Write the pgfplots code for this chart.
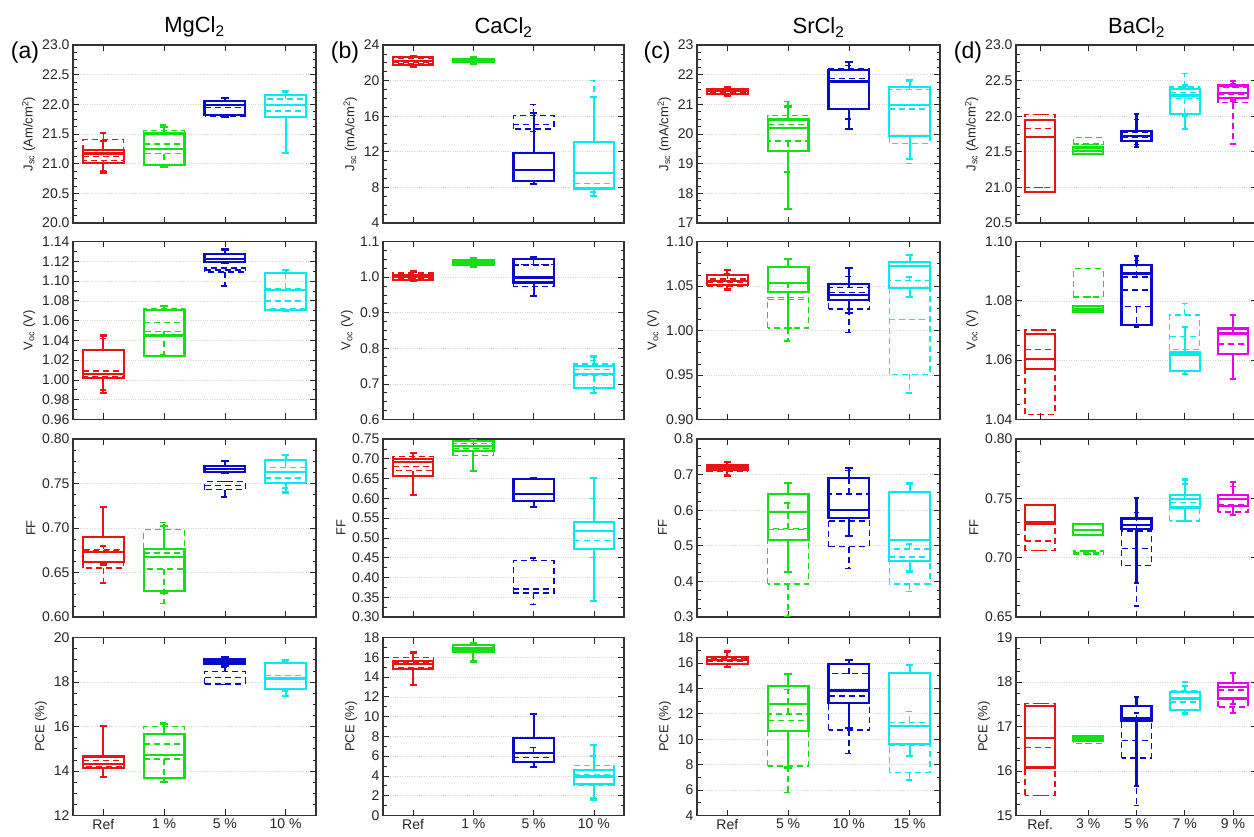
\documentclass[border=0pt]{standalone}
\usepackage{fontspec}
\setmainfont{Liberation Sans}
\usepackage{pgfplots}
\pgfplotsset{compat=1.18}
\usepgfplotslibrary{statistics}

\definecolor{cR}{RGB}{235,20,20}
\definecolor{cG}{RGB}{20,225,20}
\definecolor{cB}{RGB}{10,10,205}
\definecolor{cC}{RGB}{0,235,235}
\definecolor{cM}{RGB}{235,0,235}

% solid box (scan 1) and dashed box (scan 2): colour, position, lw, lq, med, uq, uw
\newcommand{\bS}[7]{\addplot[draw=#1, solid, line width=2.2pt,
  boxplot prepared={draw position=#2, lower whisker=#3, lower quartile=#4,
  median=#5, upper quartile=#6, upper whisker=#7}] coordinates {};}
\newcommand{\bD}[7]{\addplot[draw=#1, line width=1.4pt, dash pattern=on 6pt off 4pt,
  boxplot prepared={draw position=#2, lower whisker=#3, lower quartile=#4,
  median=#5, upper quartile=#6, upper whisker=#7}] coordinates {};}

\pgfplotsset{
  panel/.style={
    scale only axis, height=178pt, anchor=north west,
    xmin=0.5, xmax=4.5, xtick={1,2,3,4}, xticklabels={},
    tick pos=both, tick align=inside, minor y tick num=3,
    major tick length=6pt, minor tick length=3.5pt,
    every tick/.append style={black!85, line width=0.7pt},
    axis line style={black!80, line width=1.1pt},
    ymajorgrids, major grid style={black!18, dotted, line width=0.6pt},
    tick label style={font=\fontsize{14}{16}\selectfont, text=black!85},
    ylabel style={font=\fontsize{13}{15}\selectfont, text=black!85},
    title style={font=\fontsize{22}{24}\selectfont, yshift=-2pt},
    /pgf/number format/assume math mode=true,
    boxplot/draw direction=y, boxplot/box extend=0.67, boxplot/whisker extend=0.12,
  },
  five/.style={xmin=0.5, xmax=5.5, xtick={1,2,3,4,5}, boxplot/box extend=0.62},
  p0/.style={yticklabel style={/pgf/number format/.cd, fixed, precision=0}},
  p1/.style={yticklabel style={/pgf/number format/.cd, fixed, fixed zerofill, precision=1}},
  p2/.style={yticklabel style={/pgf/number format/.cd, fixed, fixed zerofill, precision=2}},
}

\begin{document}
\begin{tikzpicture}
\useasboundingbox (0pt,0pt) rectangle (1254pt,-837pt);

% ---------------- (a) MgCl2 ----------------
\begin{axis}[panel, at={(73pt,-45pt)}, width=243pt, ymin=20, ymax=23,
  ytick={20,20.5,21,21.5,22,22.5,23}, p1,
  ylabel={J\textsubscript{sc} (Am/cm\textsuperscript{2})}, title={MgCl\textsubscript{2}}]
\bD{cR}{1}{20.88}{21.05}{21.12}{21.41}{21.52}
\bS{cR}{1}{20.85}{21.01}{21.17}{21.23}{21.38}
\bD{cG}{2}{20.95}{21.17}{21.33}{21.56}{21.65}
\bS{cG}{2}{20.94}{20.98}{21.25}{21.51}{21.62}
\bD{cB}{3}{21.78}{21.80}{21.95}{22.05}{22.10}
\bS{cB}{3}{21.79}{21.82}{21.99}{22.06}{22.10}
\bD{cC}{4}{21.78}{21.79}{21.89}{22.09}{22.20}
\bS{cC}{4}{21.18}{21.78}{21.99}{22.16}{22.23}
\end{axis}

\begin{axis}[panel, at={(73pt,-241.5pt)}, width=243pt, ymin=0.96, ymax=1.14,
  ytick={0.96,0.98,1.00,1.02,1.04,1.06,1.08,1.10,1.12,1.14}, minor y tick num=1, p2,
  ylabel={V\textsubscript{oc} (V)}]
\bD{cR}{1}{0.990}{1.003}{1.009}{1.030}{1.042}
\bS{cR}{1}{0.987}{1.002}{1.006}{1.030}{1.045}
\bD{cG}{2}{1.026}{1.049}{1.058}{1.072}{1.075}
\bS{cG}{2}{1.024}{1.024}{1.045}{1.071}{1.075}
\bD{cB}{3}{1.095}{1.109}{1.111}{1.113}{1.113}
\bS{cB}{3}{1.118}{1.119}{1.122}{1.127}{1.132}
\bD{cC}{4}{1.070}{1.072}{1.080}{1.092}{1.108}
\bS{cC}{4}{1.070}{1.071}{1.091}{1.108}{1.111}
\end{axis}

\begin{axis}[panel, at={(73pt,-439pt)}, width=243pt, ymin=0.60, ymax=0.80,
  ytick={0.60,0.65,0.70,0.75,0.80}, p2, ylabel={FF}]
\bD{cR}{1}{0.638}{0.655}{0.674}{0.676}{0.680}
\bS{cR}{1}{0.659}{0.662}{0.673}{0.690}{0.724}
\bD{cG}{2}{0.615}{0.654}{0.672}{0.698}{0.706}
\bS{cG}{2}{0.627}{0.629}{0.667}{0.676}{0.702}
\bD{cB}{3}{0.735}{0.743}{0.748}{0.752}{0.752}
\bS{cB}{3}{0.762}{0.763}{0.766}{0.770}{0.775}
\bD{cC}{4}{0.745}{0.751}{0.756}{0.768}{0.776}
\bS{cC}{4}{0.740}{0.751}{0.763}{0.776}{0.782}
\end{axis}

\begin{axis}[panel, at={(73pt,-637.5pt)}, width=243pt, ymin=12, ymax=20,
  ytick={12,14,16,18,20}, p0, ylabel={PCE (\%)},
  xticklabels={Ref,1 \%,5 \%,10 \%}]
\bD{cR}{1}{13.72}{14.20}{14.47}{14.60}{16.00}
\bS{cR}{1}{13.72}{14.14}{14.32}{14.65}{16.04}
\bD{cG}{2}{13.50}{14.54}{15.22}{15.99}{16.19}
\bS{cG}{2}{13.50}{13.69}{14.72}{15.67}{16.10}
\bD{cB}{3}{17.88}{17.91}{18.20}{18.48}{18.68}
\bS{cB}{3}{18.73}{18.83}{18.92}{19.03}{19.10}
\bD{cC}{4}{17.60}{17.70}{18.28}{18.85}{18.95}
\bS{cC}{4}{17.38}{17.68}{18.16}{18.85}{18.98}
\end{axis}

% ---------------- (b) CaCl2 ----------------
\begin{axis}[panel, at={(383pt,-45pt)}, width=241pt, ymin=4, ymax=24,
  ytick={4,8,12,16,20,24}, p0,
  ylabel={J\textsubscript{sc} (mA/cm\textsuperscript{2})}, title={CaCl\textsubscript{2}}]
\bD{cR}{1}{21.70}{21.90}{22.10}{22.50}{22.70}
\bS{cR}{1}{21.58}{21.77}{22.21}{22.62}{22.77}
\bD{cG}{2}{21.90}{22.10}{22.30}{22.40}{22.60}
\bS{cG}{2}{21.90}{22.06}{22.25}{22.44}{22.60}
\bD{cB}{3}{14.30}{14.58}{15.06}{16.10}{17.30}
\bS{cB}{3}{8.36}{8.73}{9.96}{11.90}{16.37}
\bD{cC}{4}{7.50}{7.90}{8.43}{13.10}{20.00}
\bS{cC}{4}{7.05}{7.87}{9.59}{13.09}{18.15}
\end{axis}

\begin{axis}[panel, at={(383pt,-241.5pt)}, width=241pt, ymin=0.6, ymax=1.1,
  ytick={0.6,0.7,0.8,0.9,1.0,1.1}, p1, ylabel={V\textsubscript{oc} (V)}]
\bD{cR}{1}{0.995}{0.996}{1.000}{1.011}{1.016}
\bS{cR}{1}{0.990}{0.991}{1.000}{1.0065}{1.016}
\bD{cG}{2}{1.030}{1.035}{1.041}{1.046}{1.053}
\bS{cG}{2}{1.030}{1.033}{1.041}{1.048}{1.053}
\bD{cB}{3}{0.946}{0.974}{1.034}{1.036}{1.055}
\bS{cB}{3}{0.946}{0.985}{0.999}{1.050}{1.055}
\bD{cC}{4}{0.690}{0.723}{0.740}{0.756}{0.765}
\bS{cC}{4}{0.675}{0.688}{0.728}{0.751}{0.777}
\end{axis}

\begin{axis}[panel, at={(383pt,-439pt)}, width=241pt, ymin=0.30, ymax=0.75,
  ytick={0.30,0.35,0.40,0.45,0.50,0.55,0.60,0.65,0.70,0.75}, minor y tick num=1, p2,
  ylabel={FF}]
\bD{cR}{1}{0.609}{0.670}{0.681}{0.706}{0.715}
\bS{cR}{1}{0.609}{0.657}{0.691}{0.700}{0.715}
\bD{cG}{2}{0.670}{0.708}{0.726}{0.739}{0.748}
\bS{cG}{2}{0.670}{0.719}{0.733}{0.744}{0.748}
\bD{cB}{3}{0.331}{0.361}{0.371}{0.443}{0.449}
\bS{cB}{3}{0.578}{0.594}{0.610}{0.649}{0.652}
\bD{cC}{4}{0.450}{0.472}{0.493}{0.541}{0.600}
\bS{cC}{4}{0.340}{0.472}{0.517}{0.541}{0.651}
\end{axis}

\begin{axis}[panel, at={(383pt,-637.5pt)}, width=241pt, ymin=0, ymax=18,
  ytick={0,2,4,6,8,10,12,14,16,18}, minor y tick num=1, p0, ylabel={PCE (\%)},
  xticklabels={Ref,1 \%,5 \%,10 \%}]
\bD{cR}{1}{13.22}{14.97}{15.48}{15.98}{16.49}
\bS{cR}{1}{13.22}{14.80}{15.31}{15.64}{16.49}
\bD{cG}{2}{15.58}{16.70}{16.95}{17.20}{17.39}
\bS{cG}{2}{15.58}{16.59}{16.89}{17.23}{17.39}
\bD{cB}{3}{4.88}{5.38}{5.89}{6.39}{6.90}
\bS{cB}{3}{4.88}{5.45}{6.32}{7.80}{10.26}
\bD{cC}{4}{1.80}{3.03}{4.10}{5.05}{6.00}
\bS{cC}{4}{1.61}{3.20}{3.94}{4.64}{7.13}
\end{axis}

% ---------------- (c) SrCl2 ----------------
\begin{axis}[panel, at={(697pt,-45pt)}, width=243pt, ymin=17, ymax=23,
  ytick={17,18,19,20,21,22,23}, p0,
  ylabel={J\textsubscript{sc} (mA/cm\textsuperscript{2})}, title={SrCl\textsubscript{2}}]
\bD{cR}{1}{21.32}{21.38}{21.45}{21.50}{21.55}
\bS{cR}{1}{21.30}{21.35}{21.44}{21.53}{21.57}
\bD{cG}{2}{18.72}{19.76}{20.32}{20.63}{21.10}
\bS{cG}{2}{17.47}{19.42}{20.21}{20.49}{20.93}
\bD{cB}{3}{20.50}{20.84}{21.88}{22.20}{22.30}
\bS{cB}{3}{20.18}{20.84}{21.77}{22.16}{22.42}
\bD{cC}{4}{19.01}{19.68}{20.84}{21.49}{21.77}
\bS{cC}{4}{19.15}{19.93}{20.99}{21.58}{21.83}
\end{axis}

\begin{axis}[panel, at={(697pt,-241.5pt)}, width=243pt, ymin=0.90, ymax=1.10,
  ytick={0.90,0.95,1.00,1.05,1.10}, p2, ylabel={V\textsubscript{oc} (V)}]
\bD{cR}{1}{1.047}{1.050}{1.054}{1.058}{1.064}
\bS{cR}{1}{1.046}{1.051}{1.0556}{1.062}{1.068}
\bD{cG}{2}{0.988}{1.003}{1.035}{1.037}{1.054}
\bS{cG}{2}{1.003}{1.043}{1.0537}{1.0717}{1.0807}
\bD{cB}{3}{0.9975}{1.024}{1.0425}{1.048}{1.061}
\bS{cB}{3}{1.020}{1.034}{1.0395}{1.052}{1.070}
\bD{cC}{4}{0.930}{0.9506}{1.0125}{1.056}{1.060}
\bS{cC}{4}{1.0376}{1.048}{1.0725}{1.077}{1.085}
\end{axis}

\begin{axis}[panel, at={(697pt,-439pt)}, width=243pt, ymin=0.3, ymax=0.8,
  ytick={0.3,0.4,0.5,0.6,0.7,0.8}, p1, ylabel={FF}]
\bD{cR}{1}{0.700}{0.708}{0.712}{0.715}{0.720}
\bS{cR}{1}{0.696}{0.7125}{0.719}{0.7255}{0.736}
\bD{cG}{2}{0.300}{0.393}{0.545}{0.548}{0.620}
\bS{cG}{2}{0.426}{0.516}{0.596}{0.6445}{0.677}
\bD{cB}{3}{0.437}{0.498}{0.570}{0.646}{0.712}
\bS{cB}{3}{0.528}{0.5775}{0.601}{0.691}{0.719}
\bD{cC}{4}{0.372}{0.393}{0.468}{0.491}{0.505}
\bS{cC}{4}{0.428}{0.4565}{0.516}{0.651}{0.675}
\end{axis}

\begin{axis}[panel, at={(697pt,-637.5pt)}, width=243pt, ymin=4, ymax=18,
  ytick={4,6,8,10,12,14,16,18}, minor y tick num=1, p0, ylabel={PCE (\%)},
  xticklabels={Ref,5 \%,10 \%,15 \%}]
\bD{cR}{1}{15.70}{15.90}{16.10}{16.35}{16.80}
\bS{cR}{1}{15.68}{15.94}{16.20}{16.47}{16.95}
\bD{cG}{2}{5.80}{7.90}{11.46}{11.99}{13.90}
\bS{cG}{2}{7.77}{10.67}{12.78}{14.18}{15.10}
\bD{cB}{3}{8.90}{10.72}{13.39}{15.15}{16.26}
\bS{cB}{3}{10.86}{12.86}{13.83}{15.92}{16.26}
\bD{cC}{4}{6.80}{7.37}{9.54}{11.33}{12.20}
\bS{cC}{4}{8.69}{9.62}{11.07}{15.21}{15.81}
\end{axis}

% ---------------- (d) BaCl2 ----------------
\begin{axis}[panel, five, at={(1016pt,-45pt)}, width=241pt, ymin=20.5, ymax=23,
  ytick={20.5,21,21.5,22,22.5,23}, p1,
  ylabel={J\textsubscript{sc} (Am/cm\textsuperscript{2})}, title={BaCl\textsubscript{2}}]
\bD{cR}{1}{21.00}{21.00}{21.83}{22.02}{22.02}
\bS{cR}{1}{20.94}{20.94}{21.71}{21.945}{21.945}
\bD{cG}{2}{21.60}{21.60}{21.61}{21.70}{21.70}
\bS{cG}{2}{21.47}{21.47}{21.51}{21.56}{21.56}
\bD{cB}{3}{21.60}{21.65}{21.70}{21.78}{21.95}
\bS{cB}{3}{21.57}{21.65}{21.72}{21.79}{22.03}
\bD{cC}{4}{22.00}{22.25}{22.33}{22.41}{22.60}
\bS{cC}{4}{21.82}{22.03}{22.29}{22.38}{22.43}
\bD{cM}{5}{21.61}{22.19}{22.31}{22.40}{22.45}
\bS{cM}{5}{22.22}{22.26}{22.33}{22.43}{22.49}
\end{axis}

\begin{axis}[panel, five, at={(1016pt,-241.5pt)}, width=241pt, ymin=1.04, ymax=1.10,
  ytick={1.04,1.06,1.08,1.10}, p2, ylabel={V\textsubscript{oc} (V)}]
\bD{cR}{1}{1.0417}{1.0417}{1.0635}{1.0702}{1.0702}
\bS{cR}{1}{1.0571}{1.0571}{1.0603}{1.0687}{1.0687}
\bD{cG}{2}{1.0813}{1.0813}{1.0813}{1.0908}{1.0908}
\bS{cG}{2}{1.0763}{1.0763}{1.0771}{1.0782}{1.0782}
\bD{cB}{3}{1.0711}{1.0780}{1.0836}{1.0880}{1.0936}
\bS{cB}{3}{1.0711}{1.0718}{1.0892}{1.0922}{1.0950}
\bD{cC}{4}{1.0635}{1.0635}{1.0679}{1.0752}{1.0791}
\bS{cC}{4}{1.0553}{1.0564}{1.0618}{1.0626}{1.0713}
\bD{cM}{5}{1.0536}{1.0620}{1.0654}{1.0690}{1.0752}
\bS{cM}{5}{1.0536}{1.0620}{1.0690}{1.0707}{1.0752}
\end{axis}

\begin{axis}[panel, five, at={(1016pt,-439pt)}, width=241pt, ymin=0.65, ymax=0.80,
  ytick={0.65,0.70,0.75,0.80}, minor y tick num=4, p2, ylabel={FF}]
\bD{cR}{1}{0.7059}{0.7059}{0.7142}{0.7280}{0.7280}
\bS{cR}{1}{0.7282}{0.7282}{0.7296}{0.7441}{0.7441}
\bD{cG}{2}{0.7030}{0.7030}{0.7040}{0.7055}{0.7055}
\bS{cG}{2}{0.7190}{0.7190}{0.7235}{0.7282}{0.7282}
\bD{cB}{3}{0.6592}{0.6933}{0.7078}{0.7226}{0.7380}
\bS{cB}{3}{0.6788}{0.7240}{0.7274}{0.7330}{0.7506}
\bD{cC}{4}{0.7310}{0.7310}{0.7464}{0.7490}{0.7620}
\bS{cC}{4}{0.7310}{0.7422}{0.7492}{0.7525}{0.7659}
\bD{cM}{5}{0.7358}{0.7385}{0.7450}{0.7525}{0.7600}
\bS{cM}{5}{0.7358}{0.7436}{0.7492}{0.7525}{0.7637}
\end{axis}

\begin{axis}[panel, five, at={(1016pt,-637.5pt)}, width=241pt, ymin=15, ymax=19,
  ytick={15,16,17,18,19}, p0, ylabel={PCE (\%)},
  xticklabels={Ref.,3 \%,5 \%,7 \%,9 \%}]
\bD{cR}{1}{15.45}{15.45}{16.53}{17.52}{17.52}
\bS{cR}{1}{16.08}{16.08}{16.75}{17.46}{17.46}
\bD{cG}{2}{16.62}{16.62}{16.68}{16.72}{16.72}
\bS{cG}{2}{16.67}{16.67}{16.73}{16.79}{16.79}
\bD{cB}{3}{15.22}{16.29}{16.68}{17.13}{17.30}
\bS{cB}{3}{15.67}{17.13}{17.18}{17.46}{17.67}
\bD{cC}{4}{17.29}{17.37}{17.55}{17.80}{18.00}
\bS{cC}{4}{17.29}{17.37}{17.63}{17.77}{17.91}
\bD{cM}{5}{17.30}{17.44}{17.82}{17.97}{18.21}
\bS{cM}{5}{17.50}{17.63}{17.89}{17.97}{18.21}
\end{axis}

\node[font=\fontsize{23}{25}\selectfont] at (25pt,-53pt) {(a)};
\node[font=\fontsize{23}{25}\selectfont] at (345pt,-53pt) {(b)};
\node[font=\fontsize{23}{25}\selectfont] at (657pt,-53pt) {(c)};
\node[font=\fontsize{23}{25}\selectfont] at (968pt,-53pt) {(d)};
\end{tikzpicture}
\end{document}
